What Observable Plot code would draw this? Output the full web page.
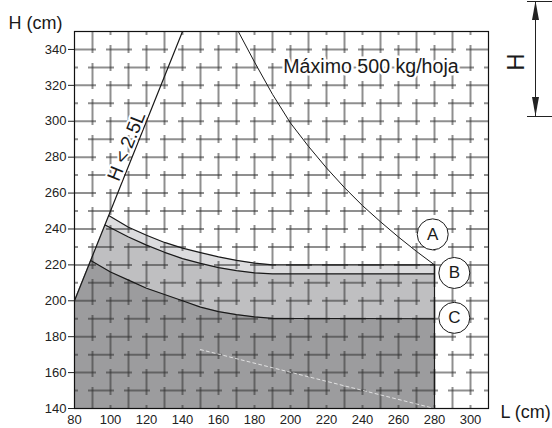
<!DOCTYPE html>
<html><head><meta charset="utf-8">
<script src="https://cdn.jsdelivr.net/npm/d3@7"></script>
<script src="https://cdn.jsdelivr.net/npm/@observablehq/plot@0.6"></script>
<style>
html,body{margin:0;padding:0;background:#fff;}
#chart{width:552px;height:428px;}
</style></head><body><div id="chart"></div>
<script>
// tick labels
const xTicks = [80, 100, 120, 140, 160, 180, 200, 220, 240, 260, 280, 300];
const yTicks = [140, 160, 180, 200, 220, 240, 260, 280, 300, 320, 340];
// background grid (every 10 cm)
const gridColsEven = [100, 120, 140, 160, 180, 200, 220, 240, 260, 280, 300];
const gridColsOdd = [90, 110, 130, 150, 170, 190, 210, 230, 250, 270, 290];
const gridRowsEven = [160, 180, 200, 220, 240, 260, 280, 300, 320, 340];
const gridRowsOdd = [150, 170, 190, 210, 230, 250, 270, 290, 310, 330];
// H < 2.5L limit line
const limitL = [80, 140];
const limitH = [200, 350];
// Máximo 500 kg/hoja curve
const maxL = [171, 180, 190, 200, 210, 220, 230, 240, 250, 260, 270, 280];
const maxH = [350, 333, 315, 299, 286, 274, 263, 253, 244, 235.5, 227.5, 220];
// curve A (top of light band)
const curveAL = [99, 110, 120, 130, 140, 150, 160, 170, 180, 190, 280];
const curveAH = [247.5, 241, 236.5, 232.5, 229.3, 226.8, 224.5, 222.5, 221, 220, 220];
// curve B
const curveBL = [97, 110, 120, 130, 140, 150, 160, 170, 180, 190, 280];
const curveBH = [242.2, 235.5, 231, 227, 223.5, 220.8, 218.5, 216.8, 215.5, 215, 215];
// curve C
const curveCL = [89, 100, 110, 120, 130, 140, 150, 160, 170, 180, 190, 280];
const curveCH = [222.5, 216, 211.5, 207, 203.5, 200, 196.5, 194, 192.3, 191, 190.2, 190];
// faint white dashed line
const whiteL = [150, 280];
const whiteH = [172.8, 140];
// circled labels
const tagNames = ["A", "B", "C"];
const tagL = [279, 291, 291];
const tagH = [237, 215.5, 190.5];

const yMin = 140, yMax = 350, xMin = 80, xMax = 310;
const pts = (L, H) => L.map((l, i) => ({L: l, H: H[i]}));
// area polygons: start at origin of limit line, then the curve
const areaPts = (L, H) => [{L: limitL[0], H: limitH[0]}, ...pts(L, H)];

const gridStyle = {stroke: "#333", strokeOpacity: 0.55, strokeWidth: 2};

const plot = Plot.plot({
  width: 552, height: 428,
  marginLeft: 74, marginRight: 64, marginTop: 31, marginBottom: 20,
  style: {fontFamily: "'Liberation Sans', Arial, sans-serif", fontSize: "13px", color: "#222", background: "#fff"},
  x: {domain: [xMin, xMax]},
  y: {domain: [yMin, yMax]},
  marks: [
    Plot.areaY(areaPts(curveAL, curveAH), {x: "L", y1: yMin, y2: "H", fill: "#dcdcde"}),
    Plot.areaY(areaPts(curveBL, curveBH), {x: "L", y1: yMin, y2: "H", fill: "#bfbfc1"}),
    Plot.areaY(areaPts(curveCL, curveCH), {x: "L", y1: yMin, y2: "H", fill: "#9c9c9e"}),
    Plot.ruleX(gridColsEven, {...gridStyle, strokeDasharray: "26,10", strokeDashoffset: 22}),
    Plot.ruleX(gridColsOdd, {...gridStyle, strokeDasharray: "26,10", strokeDashoffset: 4}),
    Plot.ruleY(gridRowsEven, {...gridStyle, strokeDasharray: "26,10", strokeDashoffset: 4}),
    Plot.ruleY(gridRowsOdd, {...gridStyle, strokeDasharray: "26,10", strokeDashoffset: 22}),
    Plot.line(pts(whiteL, whiteH), {x: "L", y: "H", stroke: "#fff", strokeWidth: 1, strokeDasharray: "3,3", strokeOpacity: 0.7}),
    Plot.line(pts(curveAL, curveAH), {x: "L", y: "H", stroke: "#1a1a1a", strokeWidth: 1.2}),
    Plot.line(pts(curveBL, curveBH), {x: "L", y: "H", stroke: "#1a1a1a", strokeWidth: 1.2}),
    Plot.line(pts(curveCL, curveCH), {x: "L", y: "H", stroke: "#1a1a1a", strokeWidth: 1.2}),
    Plot.ruleX([curveAL[curveAL.length - 1]], {y1: yMin, y2: curveAH[curveAH.length - 1], stroke: "#1a1a1a", strokeWidth: 1.2}),
    Plot.line(pts(maxL, maxH), {x: "L", y: "H", stroke: "#1a1a1a", strokeWidth: 1}),
    Plot.line(pts(limitL, limitH), {x: "L", y: "H", stroke: "#1a1a1a", strokeWidth: 1.2}),
    Plot.text(["Máximo 500 kg/hoja"], {x: 196, y: 330.5, text: d => d, textAnchor: "start", fontSize: 19.6, fill: "#1a1a1a", stroke: "#fff", strokeWidth: 5, paintOrder: "stroke"}),
    Plot.text(["H < 2.5L"], {x: 110, y: 286, dx: -2, text: d => d, rotate: -68.2, fontSize: 19, fill: "#1a1a1a", stroke: "#fff", strokeWidth: 4, paintOrder: "stroke"}),
    Plot.dot(pts(tagL, tagH), {x: "L", y: "H", r: 15.5, fill: "#fff", stroke: "#1a1a1a", strokeWidth: 1}),
    Plot.text(pts(tagL, tagH), {x: "L", y: "H", text: (d, i) => tagNames[i], fontSize: 17, fill: "#1a1a1a"}),
    Plot.frame({stroke: "#111", strokeWidth: 1.2}),
    Plot.axisY(yTicks, {tickSize: 6, tickPadding: 2, label: null, fontSize: 13}),
    Plot.axisX(xTicks, {tickSize: 0, tickPadding: 6, label: null, fontSize: 13}),
    Plot.text(["H (cm)"], {frameAnchor: "top-left", dx: -66, dy: -15, textAnchor: "start", fontSize: 18, fill: "#1a1a1a"}),
    Plot.text(["L (cm)"], {frameAnchor: "bottom-right", dx: 12, dy: 9, textAnchor: "start", fontSize: 18, fill: "#1a1a1a"})
  ]
});
document.getElementById("chart").appendChild(plot);

// decorative "H" dimension glyph in the right margin
const svg = d3.select(plot);
const g = svg.append("g").attr("stroke", "#222").attr("fill", "#222");
g.append("line").attr("x1", 535.5).attr("x2", 535.5).attr("y1", 1).attr("y2", 116).attr("stroke-width", 1);
g.append("line").attr("x1", 527).attr("x2", 552).attr("y1", 1.5).attr("y2", 1.5).attr("stroke-width", 1);
g.append("line").attr("x1", 527).attr("x2", 552).attr("y1", 116.5).attr("y2", 116.5).attr("stroke-width", 1);
g.append("path").attr("d", "M535.5,1L532,20L539,20Z").attr("stroke", "none");
g.append("path").attr("d", "M535.5,116L532,97L539,97Z").attr("stroke", "none");
svg.append("text").attr("transform", "translate(515,62) rotate(-90)")
  .attr("text-anchor", "middle").attr("dominant-baseline", "central")
  .attr("font-size", 24).attr("fill", "#1a1a1a").text("H");
</script>
</body></html>
